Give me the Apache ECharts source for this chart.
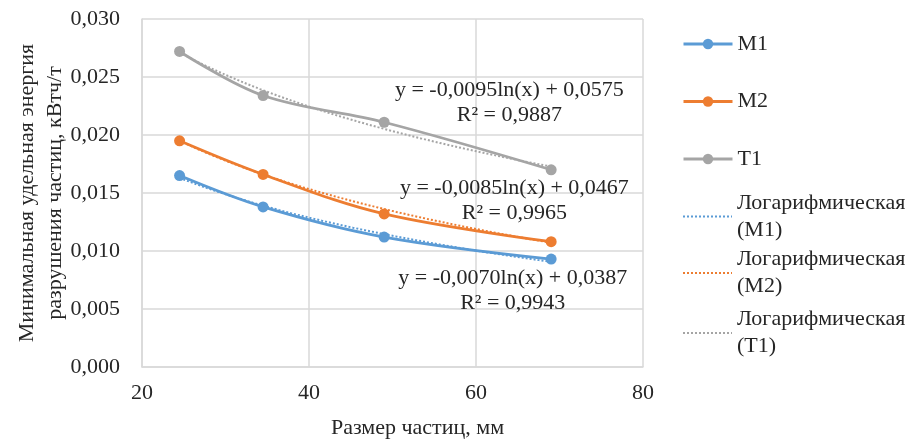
<!DOCTYPE html>
<html>
<head>
<meta charset="utf-8">
<script src="https://cdn.jsdelivr.net/npm/echarts@6/dist/echarts.min.js"></script>
<style>
  html, body { margin: 0; padding: 0; background: #ffffff; }
  #chart { width: 922px; height: 445px; }
</style>
</head>
<body>
<div id="chart"></div>
<script>
// Particle size, mm
const sizes = [24.5, 34.5, 49, 69];

// Minimum specific breakage energy, kWh/t
const seriesNames = ['M1', 'M2', 'T1'];
const valuesM1 = [0.0165, 0.0138, 0.0112, 0.0093];
const valuesM2 = [0.0195, 0.0166, 0.0132, 0.0108];
const valuesT1 = [0.0272, 0.0234, 0.0211, 0.0170];

// Logarithmic trend coefficients: y = a*ln(x) + b, with R²
const trendA = [-0.0070, -0.0085, -0.0095];
const trendB = [0.0387, 0.0467, 0.0575];
const trendR2 = [0.9943, 0.9965, 0.9887];
const trendNames = ['Логарифмическая (M1)', 'Логарифмическая (M2)', 'Логарифмическая (T1)'];

// Axis ticks
const xTicks = [20, 40, 60, 80];
const yTicks = [0, 0.005, 0.010, 0.015, 0.020, 0.025, 0.030];

const colors = ['#5B9BD5', '#ED7D31', '#A5A5A5'];
const FONT = '"Liberation Serif", "Times New Roman", serif';
const FS = 22;
const TEXT_COLOR = '#262626';
const allValues = [valuesM1, valuesM2, valuesT1];

function fmt(v, digits) {
  return v.toFixed(digits).replace('.', ',');
}

// Sample the trend curve across the data range
function trendPoints(a, b) {
  const pts = [];
  const x0 = sizes[0], x1 = sizes[sizes.length - 1];
  const n = 60;
  for (let i = 0; i <= n; i++) {
    const x = x0 + (x1 - x0) * i / n;
    pts.push([x, a * Math.log(x) + b]);
  }
  return pts;
}

const series = [];
seriesNames.forEach((name, i) => {
  series.push({
    name: name,
    type: 'line',
    smooth: 0.35,
    data: sizes.map((x, k) => [x, allValues[i][k]]),
    symbol: 'circle',
    symbolSize: 11,
    lineStyle: { color: colors[i], width: 2.75 },
    itemStyle: { color: colors[i] },
    z: 3
  });
});
trendNames.forEach((name, i) => {
  series.push({
    name: name,
    type: 'line',
    data: trendPoints(trendA[i], trendB[i]),
    symbol: 'none',
    lineStyle: { color: colors[i], width: 2, type: [2, 2] },
    itemStyle: { color: colors[i] },
    z: 4
  });
});

// One legend block per entry so each line sits where it belongs
const legendTops = [44, 101.5, 159, 216.5, 273, 333];
const legendNames = seriesNames.concat(trendNames);
const legends = legendNames.map((name, i) => {
  const twoLine = i >= 3;
  const lh = 27;
  const lg = {
    data: [name],
    orient: 'vertical',
    left: 682,
    top: legendTops[i] - (twoLine ? lh * 1.5 : lh / 2),
    padding: 0,
    itemWidth: 49,
    itemHeight: 13,
    itemGap: 0,
    selectedMode: false,
    formatter: n => n.replace(' (', '\n('),
    textStyle: {
      fontFamily: FONT,
      fontSize: FS,
      color: TEXT_COLOR,
      lineHeight: lh,
      padding: twoLine ? [lh, 0, 0, 0] : 0
    }
  };
  if (twoLine) {
    // trend entries show only the dotted line
    lg.itemStyle = { opacity: 0 };
    lg.lineStyle = { width: 2, type: [2, 2], opacity: 1 };
  } else {
    lg.lineStyle = { width: 3 };
  }
  return lg;
});

const chart = echarts.init(document.getElementById('chart'));
chart.setOption({
  animation: false,
  backgroundColor: '#ffffff',
  grid: { left: 142, right: 279, top: 19, bottom: 78, containLabel: false, outerBoundsMode: 'none' },
  xAxis: {
    type: 'value',
    min: xTicks[0],
    max: xTicks[xTicks.length - 1],
    interval: xTicks[1] - xTicks[0],
    name: 'Размер частиц, мм',
    nameLocation: 'middle',
    nameGap: 50,
    nameMoveOverlap: false,
    nameTextStyle: { fontFamily: FONT, fontSize: FS, color: TEXT_COLOR, padding: [0, 0, 0, 50] },
    axisLine: { lineStyle: { color: '#d9d9d9', width: 1.5 } },
    axisTick: { show: false },
    axisLabel: { fontFamily: FONT, fontSize: FS, color: TEXT_COLOR, margin: 15 },
    splitLine: { lineStyle: { color: '#d9d9d9', width: 1.5 } }
  },
  yAxis: {
    type: 'value',
    min: yTicks[0],
    max: yTicks[yTicks.length - 1],
    interval: yTicks[1] - yTicks[0],
    name: 'Минимальная удельная энергия\nразрушения частиц, кВтч/т',
    nameLocation: 'middle',
    nameRotate: 90,
    nameGap: 73,
    nameMoveOverlap: false,
    nameTextStyle: { fontFamily: FONT, fontSize: FS, color: TEXT_COLOR, lineHeight: 28 },
    axisLine: { show: true, lineStyle: { color: '#d9d9d9', width: 1.5 } },
    axisTick: { show: false },
    axisLabel: { fontFamily: FONT, fontSize: FS, color: TEXT_COLOR, margin: 22, formatter: v => fmt(v, 3) },
    splitLine: { lineStyle: { color: '#d9d9d9', width: 1.5 } }
  },
  legend: legends,
  series: series
});

// Trend equations, anchored in data space
const eqAnchors = [[64.4, 0.00655], [64.6, 0.01431], [64.0, 0.0228]];
const graphics = eqAnchors.map((p, i) => {
  const px = chart.convertToPixel({ gridIndex: 0 }, p);
  const a = trendA[i], b = trendB[i];
  const text = 'y = ' + fmt(a, 4) + 'ln(x) + ' + fmt(b, 4) + '\nR² = ' + fmt(trendR2[i], 4);
  return {
    type: 'text',
    x: px[0],
    y: px[1],
    z: 10,
    style: {
      text: text,
      fontFamily: FONT,
      fontSize: FS,
      lineHeight: 25,
      fill: TEXT_COLOR,
      align: 'center',
      verticalAlign: 'middle'
    }
  };
});
chart.setOption({ graphic: graphics });
</script>
</body>
</html>
